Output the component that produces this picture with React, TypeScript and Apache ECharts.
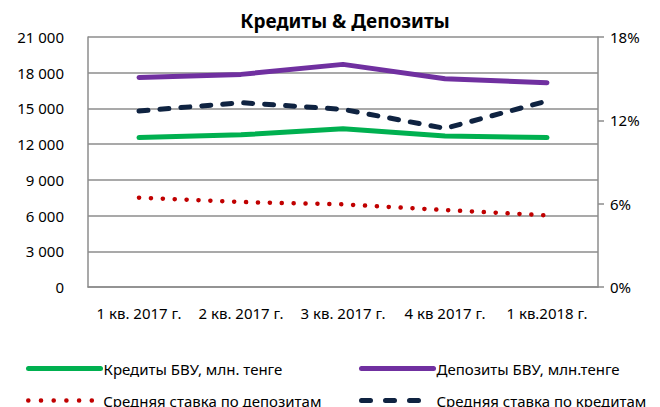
import React, { useEffect, useRef } from "react";
import * as echarts from "echarts";

const categories = ["1 кв. 2017 г.", "2 кв. 2017 г.", "3 кв. 2017 г.", "4 кв 2017 г.", "1 кв.2018 г."];
const loans = [12550, 12780, 13300, 12690, 12550];
const deposits = [17600, 17860, 18700, 17500, 17160];
const depositRate = [6.43, 6.12, 5.95, 5.54, 5.16];
const loanRate = [12.67, 13.27, 12.79, 11.42, 13.39];
const leftTicks = { min: 0, max: 21000, interval: 3000 };
const rightTicks = { min: 0, max: 18, interval: 6 };

const FONT = "'Noto Sans', sans-serif";

const legendBase = {
  orient: "horizontal",
  itemWidth: 72,
  itemHeight: 14,
  itemGap: 10,
  itemStyle: { opacity: 0 },
  textStyle: { fontSize: 15, color: "#000", fontFamily: FONT, padding: [0, 0, 0, -2] },
};
const solidLegendLine = { width: 5, cap: "round" };
const dotLegendLine = { width: 4.5, type: [0.1, 12.6], cap: "round" };
const dashLegendLine = { width: 5, type: [9, 15], cap: "round" };

export default function App() {
  const ref = useRef<HTMLDivElement>(null);
  useEffect(() => {
    if (!ref.current) return;
    const chart = echarts.init(ref.current, null, { renderer: "svg" });
    chart.setOption({
      animation: false,
      textStyle: { fontFamily: FONT },
      title: {
        text: "Кредиты & Депозиты",
        left: 340,
        textAlign: "center",
        top: 6,
        textStyle: { fontSize: 19, fontWeight: "bold", color: "#000", fontFamily: FONT },
      },
      grid: { left: 88, right: 62, top: 37, bottom: 120 },
      legend: [
        { ...legendBase, lineStyle: solidLegendLine, left: 21, top: 356, data: ["Кредиты БВУ, млн. тенге"] },
        { ...legendBase, lineStyle: solidLegendLine, left: 354, top: 356, data: ["Депозиты БВУ, млн.тенге"] },
        { ...legendBase, lineStyle: dotLegendLine, left: 21, top: 388, data: ["Средняя ставка по депозитам"] },
        { ...legendBase, lineStyle: dashLegendLine, left: 354, top: 388, data: ["Средняя ставка по кредитам"] },
      ],
      xAxis: {
        type: "category",
        data: categories,
        boundaryGap: true,
        axisLine: { lineStyle: { color: "#8c8c8c", width: 1.5 } },
        axisTick: { show: false },
        axisLabel: { color: "#000", fontSize: 15, margin: 18, fontFamily: FONT, interval: 0, hideOverlap: false },
      },
      yAxis: [
        {
          type: "value",
          ...leftTicks,
          axisLine: { show: true, lineStyle: { color: "#8c8c8c", width: 1.5 } },
          axisTick: { show: false },
          splitLine: { lineStyle: { color: "#8c8c8c", width: 1.5 } },
          axisLabel: {
            color: "#000",
            fontSize: 15,
            margin: 24,
            fontFamily: FONT,
            formatter: (v: number) => (v >= 1000 ? `${Math.floor(v / 1000)} ${String(v % 1000).padStart(3, "0")}` : String(v)),
          },
        },
        {
          type: "value",
          ...rightTicks,
          position: "right",
          axisLine: { show: true, lineStyle: { color: "#8c8c8c", width: 1.5 } },
          axisTick: { show: true, length: 6, lineStyle: { color: "#8c8c8c", width: 1.5 } },
          splitLine: { show: false },
          axisLabel: { color: "#000", fontSize: 15, margin: 12, fontFamily: FONT, formatter: "{value}%" },
        },
      ],
      series: [
        {
          name: "Кредиты БВУ, млн. тенге",
          type: "line",
          yAxisIndex: 0,
          data: loans,
          symbol: "none",
          lineStyle: { color: "#00B050", width: 5, cap: "round" },
          itemStyle: { color: "#00B050" },
        },
        {
          name: "Депозиты БВУ, млн.тенге",
          type: "line",
          yAxisIndex: 0,
          data: deposits,
          symbol: "none",
          lineStyle: { color: "#7030A0", width: 5, cap: "round" },
          itemStyle: { color: "#7030A0" },
        },
        {
          name: "Средняя ставка по депозитам",
          type: "line",
          yAxisIndex: 1,
          data: depositRate,
          symbol: "none",
          lineStyle: { color: "#C00000", width: 4.5, type: [0.1, 11.8], cap: "round" },
          itemStyle: { color: "#C00000" },
        },
        {
          name: "Средняя ставка по кредитам",
          type: "line",
          yAxisIndex: 1,
          data: loanRate,
          symbol: "none",
          lineStyle: { color: "#0F2341", width: 5, type: [9, 12], cap: "round" },
          itemStyle: { color: "#0F2341" },
        },
      ],
    });
    return () => chart.dispose();
  }, []);
  return <div ref={ref} style={{ width: 660, height: 407, position: "absolute", left: 0, top: 0 }} />;
}
